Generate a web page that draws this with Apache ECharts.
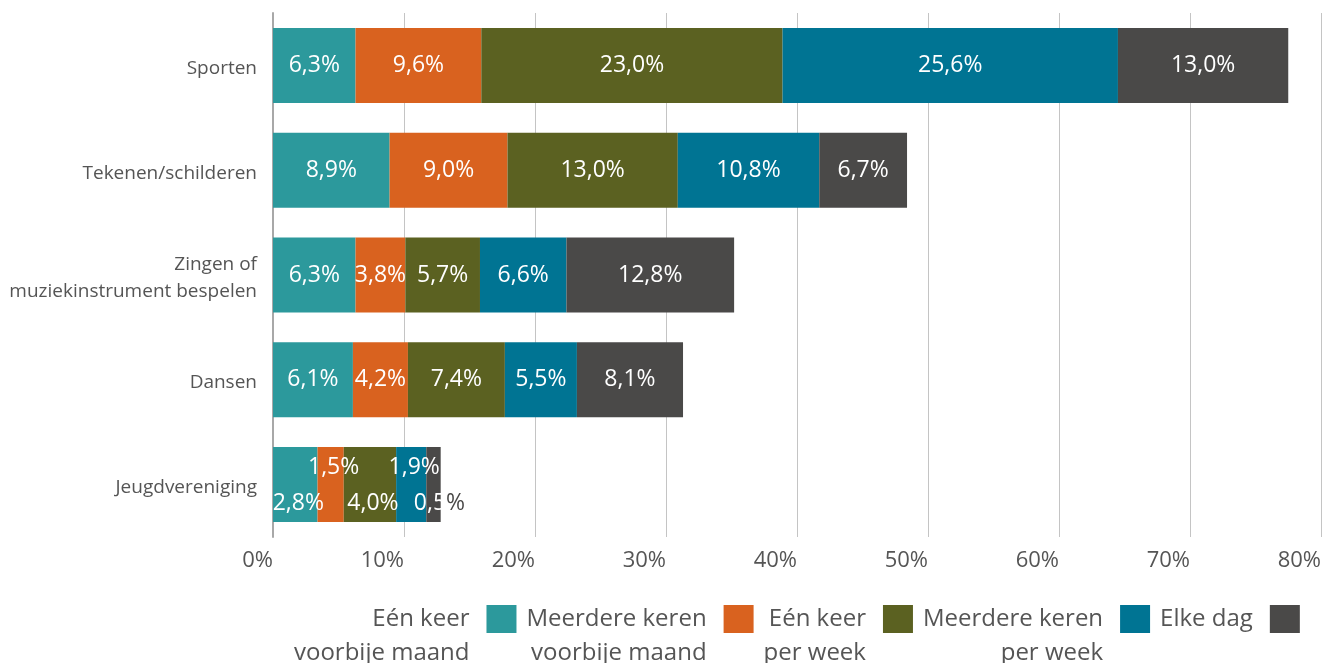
<!DOCTYPE html>
<html>
<head>
<meta charset="utf-8">
<script src="https://cdn.jsdelivr.net/npm/echarts@6/dist/echarts.min.js"></script>
<style>
  html, body { margin: 0; padding: 0; background: #ffffff; }
  #chart { width: 1327px; height: 663px; }
</style>
</head>
<body>
<div id="chart"></div>
<script>
// Categories (top to bottom)
const categories = ['Sporten', 'Tekenen/schilderen', 'Zingen of\nmuziekinstrument bespelen', 'Dansen', 'Jeugdvereniging'];

// Series names (legend)
const seriesNames = ['Eén keer\nvoorbije maand', 'Meerdere keren\nvoorbije maand', 'Eén keer\nper week', 'Meerdere keren\nper week', 'Elke dag'];

// Bar lengths (%) as drawn in the picture, per series, in category order
const eenKeerMaand      = [6.3, 8.9, 6.3, 6.1, 3.4];
const meerdereKerenMaand = [9.6, 9.0, 3.8, 4.2, 2.0];
const eenKeerWeek       = [23.0, 13.0, 5.7, 7.4, 4.0];
const meerdereKerenWeek = [25.6, 10.8, 6.6, 5.5, 2.3];
const elkeDag           = [13.0, 6.7, 12.8, 8.1, 1.1];

// Printed label values (%) — in the source the Jeugdvereniging labels differ from its bar lengths
const labelEenKeerMaand      = [6.3, 8.9, 6.3, 6.1, 2.8];
const labelMeerdereKerenMaand = [9.6, 9.0, 3.8, 4.2, 1.5];
const labelEenKeerWeek       = [23.0, 13.0, 5.7, 7.4, 4.0];
const labelMeerdereKerenWeek = [25.6, 10.8, 6.6, 5.5, 1.9];
const labelElkeDag           = [13.0, 6.7, 12.8, 8.1, 0.5];

// X-axis ticks
const xTicks = [0, 10, 20, 30, 40, 50, 60, 70, 80];

const colors = ['#2c999c', '#d9621f', '#5b6121', '#007493', '#4a4948'];
const values = [eenKeerMaand, meerdereKerenMaand, eenKeerWeek, meerdereKerenWeek, elkeDag];
const labelVals = [labelEenKeerMaand, labelMeerdereKerenMaand, labelEenKeerWeek, labelMeerdereKerenWeek, labelElkeDag];

const FONT = 'Open Sans';
const fmt = v => v.toFixed(1).replace('.', ',');

const series = values.map((arr, si) => ({
  name: seriesNames[si],
  type: 'bar',
  stack: 'total',
  barWidth: 75,
  itemStyle: { color: colors[si] },
  data: arr.map((v, ci) => {
    const item = { value: v };
    if (ci === 4) {
      // small segments of Jeugdvereniging: labels alternate below / above
      const up = (si % 2 === 1);
      item.label = { offset: [3, up ? -17 : 19] };
      if (si === 4) {
        item.label.formatter = '{w|' + fmt(labelVals[si][ci]) + '}{d|%}';
        item.label.offset = [6, 19];
      }
    }
    return item;
  }),
  label: {
    show: true,
    position: 'inside',
    color: '#ffffff',
    fontFamily: FONT,
    fontSize: 23,
    formatter: p => fmt(labelVals[si][p.dataIndex]) + '%',
    rich: {
      w: { color: '#ffffff', fontFamily: FONT, fontSize: 23 },
      d: { color: '#4a4948', fontFamily: FONT, fontSize: 23 }
    }
  },
  emphasis: { disabled: true }
}));

const chart = echarts.init(document.getElementById('chart'));
chart.setOption({
  animation: false,
  grid: { left: 273, right: 6, top: 13, bottom: 126, containLabel: false },
  xAxis: {
    type: 'value',
    min: xTicks[0],
    max: xTicks[xTicks.length - 1],
    interval: 10,
    axisLine: { show: false },
    axisTick: { show: false },
    splitLine: { show: true, lineStyle: { color: '#c4c4c4', width: 1 } },
    axisLabel: {
      formatter: '{value}%',
      align: 'right',
      margin: 13,
      color: '#555555',
      fontFamily: FONT,
      fontSize: 22
    }
  },
  yAxis: {
    type: 'category',
    inverse: true,
    data: categories,
    axisLine: { show: true, lineStyle: { color: '#a8a8a8', width: 2 } },
    axisTick: { show: false },
    axisLabel: {
      margin: 16,
      align: 'right',
      formatter: v => v.split('\n').map(s => '{c|' + s + '}').join('\n'),
      rich: {
        c: {
          color: '#555555',
          fontFamily: FONT,
          fontSize: 19,
          lineHeight: 27,
          padding: [6, 0, 0, 0]
        }
      }
    }
  },
  legend: {
    data: seriesNames,
    align: 'right',
    left: 289,
    top: 563,
    itemWidth: 30,
    itemHeight: 28,
    itemGap: 10,
    icon: 'rect',
    selectedMode: false,
    formatter: name => name.indexOf('\n') >= 0 ? ' \n' + name : name,
    textStyle: {
      color: '#555555',
      fontFamily: FONT,
      fontSize: 24,
      lineHeight: 34,
      align: 'right',
      padding: [0, 12, 0, 0]
    }
  },
  series: series
});
</script>
</body>
</html>
